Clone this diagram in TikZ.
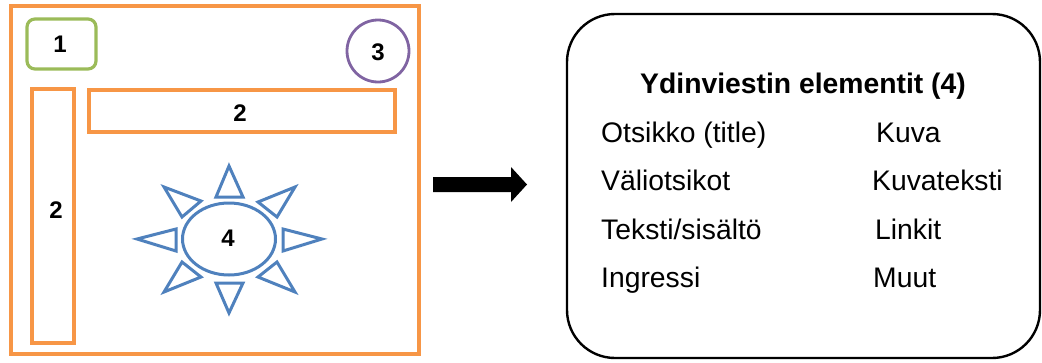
\documentclass[tikz,border=0pt]{standalone}
\usepackage{fontspec}
\setmainfont{Liberation Sans}
\usetikzlibrary{shapes.geometric}
\definecolor{frameorange}{HTML}{F79646}
\definecolor{titlegreen}{HTML}{9BBB59}
\definecolor{logopurple}{HTML}{8064A2}
\definecolor{sunblue}{HTML}{4F81BD}
\tikzset{
  region/.style={draw=frameorange, line width=3.4pt, inner sep=0pt},
  numlabel/.style={font=\fontsize{24}{28}\selectfont\bfseries, inner sep=0pt},
  ray/.style={draw=sunblue, line width=3pt, fill=white},
  item/.style={font=\fontsize{28.3}{34}\selectfont, anchor=base west, inner sep=0pt},
}
\begin{document}
\begin{tikzpicture}[x=1pt, y=-1pt]
\useasboundingbox (0,0) rectangle (1042,362);

% page layout sketch
\node[region, minimum width=408pt, minimum height=348pt] (page) at (215,180) {};
\node[draw=titlegreen, line width=3.2pt, rounded corners=8pt, inner sep=0pt,
      minimum width=69pt, minimum height=50pt] (box1) at (61.5,44) {};
\node[numlabel] (n1) at (60,44) {1};
\node[draw=logopurple, line width=2.8pt, circle, inner sep=0pt, minimum size=62pt] (box3) at (378,51) {};
\node[numlabel] (n3) at (378,52) {3};
\node[region, minimum width=306pt, minimum height=42pt] (nav) at (242,111) {};
\node[numlabel] (n2a) at (240,113) {2};
\node[region, minimum width=42pt, minimum height=254pt] (side) at (53,216) {};
\node[numlabel] (n2b) at (56,210) {2};

% sun: ellipse with eight triangular rays
\path[ray] (229,166) -- (243,197) -- (216,197) -- cycle;
\path[ray] (229,313) -- (243,283) -- (216,283) -- cycle;
\path[ray] (137,239) -- (176,229) -- (176,251) -- cycle;
\path[ray] (322,239) -- (283,229) -- (283,251) -- cycle;
\path[ray] (164,187) -- (201,201) -- (182,217) -- cycle;
\path[ray] (295,187) -- (258,202) -- (277,217) -- cycle;
\path[ray] (164,292) -- (182,262) -- (201,277) -- cycle;
\path[ray] (295,292) -- (277,262) -- (258,277) -- cycle;
\node[ellipse, draw=sunblue, line width=3pt, inner sep=0pt,
      minimum width=93pt, minimum height=72pt] (core) at (229,239) {};
\node[numlabel] (n4) at (228,238) {4};

% block arrow
\fill (433,177) -- (511,177) -- (511,167) -- (527,184.5) -- (511,202) -- (511,192) -- (433,192) -- cycle;

% element list
\node[draw, line width=2.4pt, rounded corners=48pt, inner sep=0pt,
      minimum width=473pt, minimum height=344pt] (list) at (803.5,186) {};
\node[font=\fontsize{28.3}{34}\selectfont\bfseries, anchor=base, inner sep=0pt] (head) at (803,93) {Ydinviestin elementit (4)};
\node[item] (e1) at (601,142) {Otsikko (title)};
\node[item] (e2) at (601,190) {Väliotsikot};
\node[item] (e3) at (601,239) {Teksti/sisältö};
\node[item] (e4) at (601,287) {Ingressi};
\node[item] (e5) at (876,142) {Kuva};
\node[item] (e6) at (872,190) {Kuvateksti};
\node[item] (e7) at (875,239) {Linkit};
\node[item] (e8) at (873,287) {Muut};
\end{tikzpicture}
\end{document}
